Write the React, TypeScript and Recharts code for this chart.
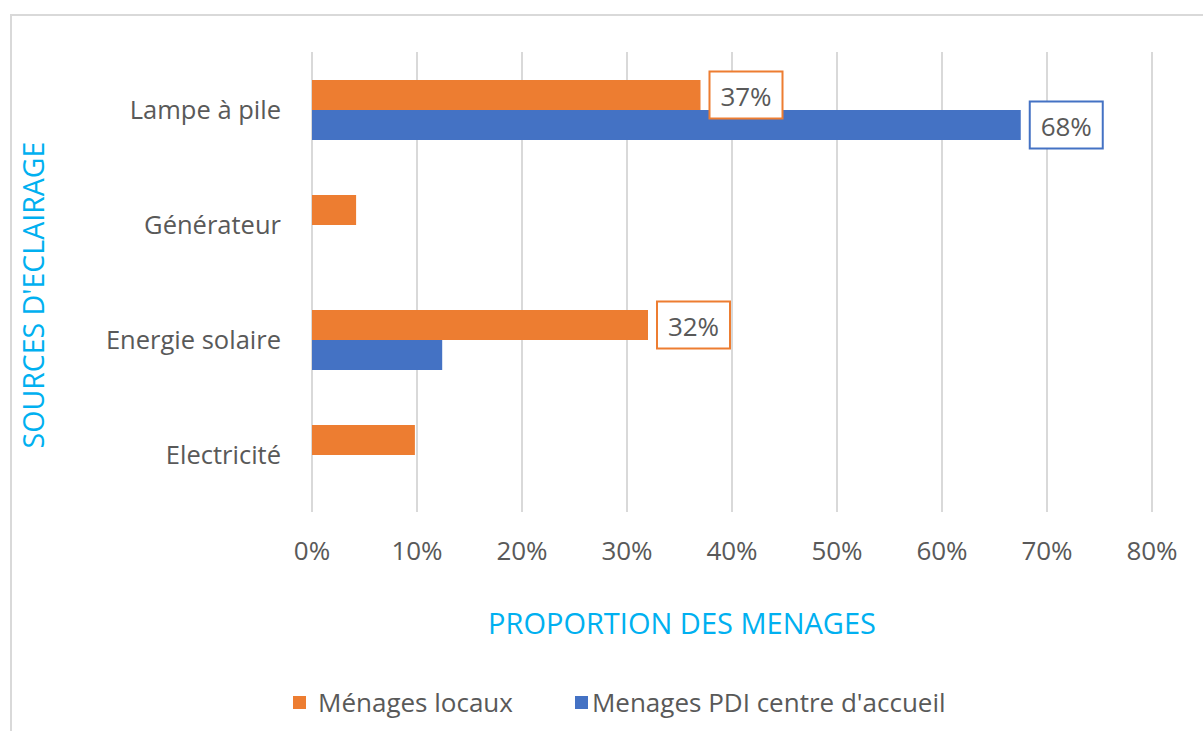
import React from "react";
import { BarChart, Bar, XAxis, YAxis, CartesianGrid, LabelList } from "recharts";

const categories = ["Lampe à pile", "Générateur", "Energie solaire", "Electricité"];
const menagesLocaux = [0.37, 0.042, 0.32, 0.098];
const menagesPDI = [0.675, 0, 0.124, 0];
const showLabelLocaux = [true, false, true, false];
const showLabelPDI = [true, false, false, false];
const xTicks = [0, 0.1, 0.2, 0.3, 0.4, 0.5, 0.6, 0.7, 0.8];
const seriesNames = ["Ménages locaux", "Menages PDI centre d'accueil"];
const xTitle = "PROPORTION DES MENAGES";
const yTitle = "SOURCES D'ECLAIRAGE";

const ORANGE = "#ED7D31";
const BLUE = "#4472C4";
const GRAY = "#595959";
const TITLE = "#00B0F0";
const FONT = "'Open Sans', sans-serif";

const data = categories.map((c, i) => ({
  name: c,
  locaux: menagesLocaux[i],
  pdi: menagesPDI[i],
}));

const makeBoxLabel = (color: string, flags: boolean[]) => (props: any) => {
  const { x, y, width, height, value, index } = props;
  if (!flags[index]) return null;
  const bx = Number(x) + Number(width) + 9;
  const cy = Number(y) + Number(height) / 2;
  const w = 73;
  const h = 47;
  return (
    <g>
      <rect x={bx} y={cy - h / 2} width={w} height={h} fill="#fff" stroke={color} strokeWidth={2} />
      <text x={bx + w / 2} y={cy + 1} textAnchor="middle" dominantBaseline="central" fill={GRAY} fontSize={26} fontFamily={FONT}>
        {Math.round(Number(value) * 100) + "%"}
      </text>
    </g>
  );
};

export default function App() {
  return (
    <div style={{ position: "absolute", left: 0, top: 0, width: 1203, height: 731, background: "#fff", overflow: "hidden", fontFamily: FONT }}>
      <div style={{ position: "absolute", left: 10, top: 14, width: 1220, height: 760, border: "2px solid #d9d9d9", boxSizing: "border-box" }} />
      <div style={{ position: "absolute", left: 0, top: 0 }}>
        <BarChart
          width={1203}
          height={731}
          data={data}
          layout="vertical"
          margin={{ top: 52, right: 51, bottom: 159, left: 0 }}
          barGap={0}
        >
          <CartesianGrid horizontal={false} vertical={true} stroke="#d9d9d9" strokeWidth={2} />
          <XAxis
            type="number"
            domain={[0, 0.8]}
            ticks={xTicks}
            tickFormatter={(v: number) => Math.round(v * 100) + "%"}
            axisLine={false}
            tickLine={false}
            tickSize={0}
            tickMargin={30}
            height={60}
            tick={{ fill: GRAY, fontSize: 26, fontFamily: FONT }}
            interval={0}
          />
          <YAxis
            type="category"
            dataKey="name"
            width={312}
            axisLine={false}
            tickLine={false}
            tickSize={0}
            tickMargin={31}
            tick={{ fill: GRAY, fontSize: 25.5, fontFamily: FONT }}
            interval={0}
          />
          <Bar dataKey="locaux" fill={ORANGE} barSize={30} isAnimationActive={false}>
            <LabelList dataKey="locaux" content={makeBoxLabel(ORANGE, showLabelLocaux)} />
          </Bar>
          <Bar dataKey="pdi" fill={BLUE} barSize={30} isAnimationActive={false}>
            <LabelList dataKey="pdi" content={makeBoxLabel(BLUE, showLabelPDI)} />
          </Bar>
        </BarChart>
      </div>
      <div style={{ position: "absolute", left: 382, top: 604, width: 600, textAlign: "center", color: TITLE, fontSize: 29, lineHeight: "38px", whiteSpace: "nowrap" }}>
        {xTitle}
      </div>
      <div style={{ position: "absolute", left: 33, top: 295, width: 0, height: 0 }}>
        <div style={{ position: "absolute", left: -250, top: -19, width: 500, textAlign: "center", color: TITLE, fontSize: 28.5, lineHeight: "38px", whiteSpace: "nowrap", transform: "rotate(-90deg)" }}>
          {yTitle}
        </div>
      </div>
      <div style={{ position: "absolute", left: 293, top: 684, display: "flex", alignItems: "center", color: GRAY, fontSize: 26, lineHeight: "36px", whiteSpace: "nowrap" }}>
        <span style={{ display: "inline-block", width: 13, height: 13, background: ORANGE, marginRight: 12 }} />
        <span>{seriesNames[0]}</span>
        <span style={{ display: "inline-block", width: 13, height: 13, background: BLUE, marginLeft: 62, marginRight: 4 }} />
        <span>{seriesNames[1]}</span>
      </div>
    </div>
  );
}
